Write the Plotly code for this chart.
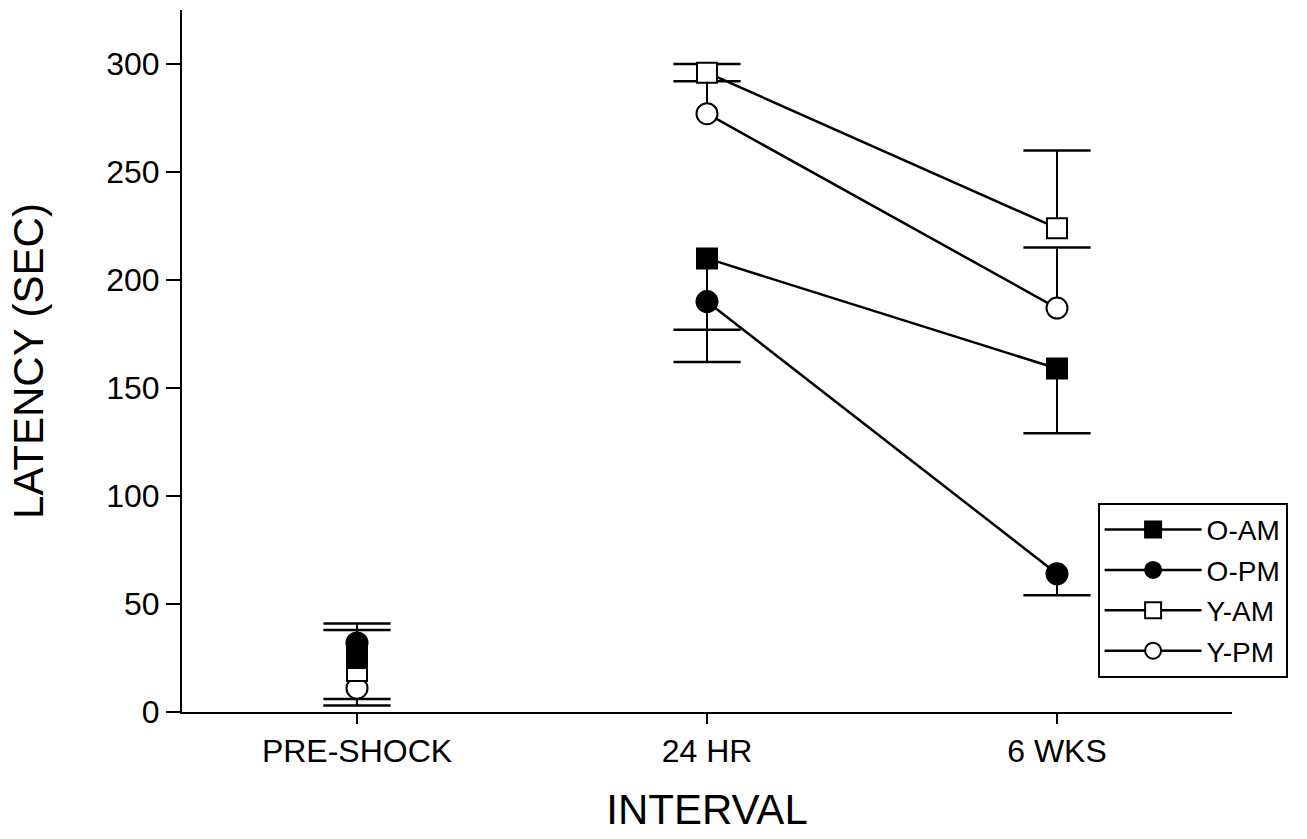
import plotly.graph_objects as go

categories = ["PRE-SHOCK", "24 HR", "6 WKS"]
x_pos = [0, 1, 2]

o_am = [25, 210, 159]
o_pm = [32, 190, 64]
y_am = [19, 296, 224]
y_pm = [11, 277, 187]

# one-sided errors: O groups downward, Y groups upward
o_am_err = [19, 33, 30]
o_pm_err = [29, 28, 10]
y_am_err = [22, 4, 36]
y_pm_err = [27, 15, 28]

y_ticks = [0, 50, 100, 150, 200, 250, 300]

FONT = "Liberation Sans, Arial, sans-serif"

fig = go.Figure()

# error bars first (below all markers): stems via error_y, caps via line-ew markers
err_specs = [
    (y_pm, y_pm_err, True),
    (y_am, y_am_err, True),
    (o_pm, o_pm_err, False),
    (o_am, o_am_err, False),
]
for vals, err, up in err_specs:
    zeros = [0] * len(err)
    fig.add_trace(go.Scatter(
        x=x_pos, y=vals, mode="markers",
        marker=dict(size=1, color="rgba(0,0,0,0)"),
        showlegend=False, hoverinfo="skip",
        error_y=dict(
            type="data", symmetric=False,
            array=err if up else zeros,
            arrayminus=zeros if up else err,
            color="black", thickness=2, width=0,
        ),
    ))
    ends = [v + e if up else v - e for v, e in zip(vals, err)]
    fig.add_trace(go.Scatter(
        x=x_pos, y=ends, mode="markers",
        marker=dict(symbol="line-ew", size=48, color="black",
                    line=dict(color="black", width=2.5)),
        showlegend=False, hoverinfo="skip",
    ))

series = [
    ("O-AM", o_am, "square", "black"),
    ("O-PM", o_pm, "circle", "black"),
    ("Y-AM", y_am, "square", "white"),
    ("Y-PM", y_pm, "circle", "white"),
]

def marker_style(sym, fill):
    return dict(symbol=sym, size=21 if sym == "circle" else 20, color=fill,
                line=dict(color="black", width=2))

for idx in [3, 2, 1, 0]:
    name, vals, sym, fill = series[idx]
    # pre-shock point is not connected
    fig.add_trace(go.Scatter(
        x=x_pos[:1], y=vals[:1], mode="markers", showlegend=False,
        marker=marker_style(sym, fill),
    ))
    fig.add_trace(go.Scatter(
        x=x_pos[1:], y=vals[1:], mode="lines+markers", name=name,
        legendrank=idx + 1, legendgroup=name,
        line=dict(color="black", width=2.5),
        marker=marker_style(sym, fill),
    ))

fig.update_layout(
    width=1307, height=839,
    margin=dict(l=182, r=75, t=10, b=127),
    paper_bgcolor="white", plot_bgcolor="white",
    font=dict(family=FONT, color="black"),
    showlegend=True,
    legend=dict(
        x=0.872, y=0.298, xanchor="left", yanchor="top",
        bordercolor="black", borderwidth=2, bgcolor="white",
        font=dict(size=28, family=FONT),
        tracegroupgap=1, itemwidth=97,
    ),
    xaxis=dict(
        range=[-0.5, 2.5], tickmode="array", tickvals=x_pos, ticktext=categories,
        showgrid=False, zeroline=False, showline=True, linecolor="black", linewidth=2,
        ticks="outside", ticklen=10, tickwidth=2, tickcolor="black",
        tickfont=dict(size=32),
        title=dict(text="INTERVAL", font=dict(size=42), standoff=26),
    ),
    yaxis=dict(
        range=[0, 325], tickmode="array", tickvals=y_ticks,
        showgrid=False, zeroline=False, showline=True, linecolor="black", linewidth=2,
        ticks="outside", ticklen=14, tickwidth=2, tickcolor="black",
        tickfont=dict(size=32),
        title=dict(text="LATENCY (SEC)", font=dict(size=42), standoff=50),
    ),
)

fig.write_html("out.html")
